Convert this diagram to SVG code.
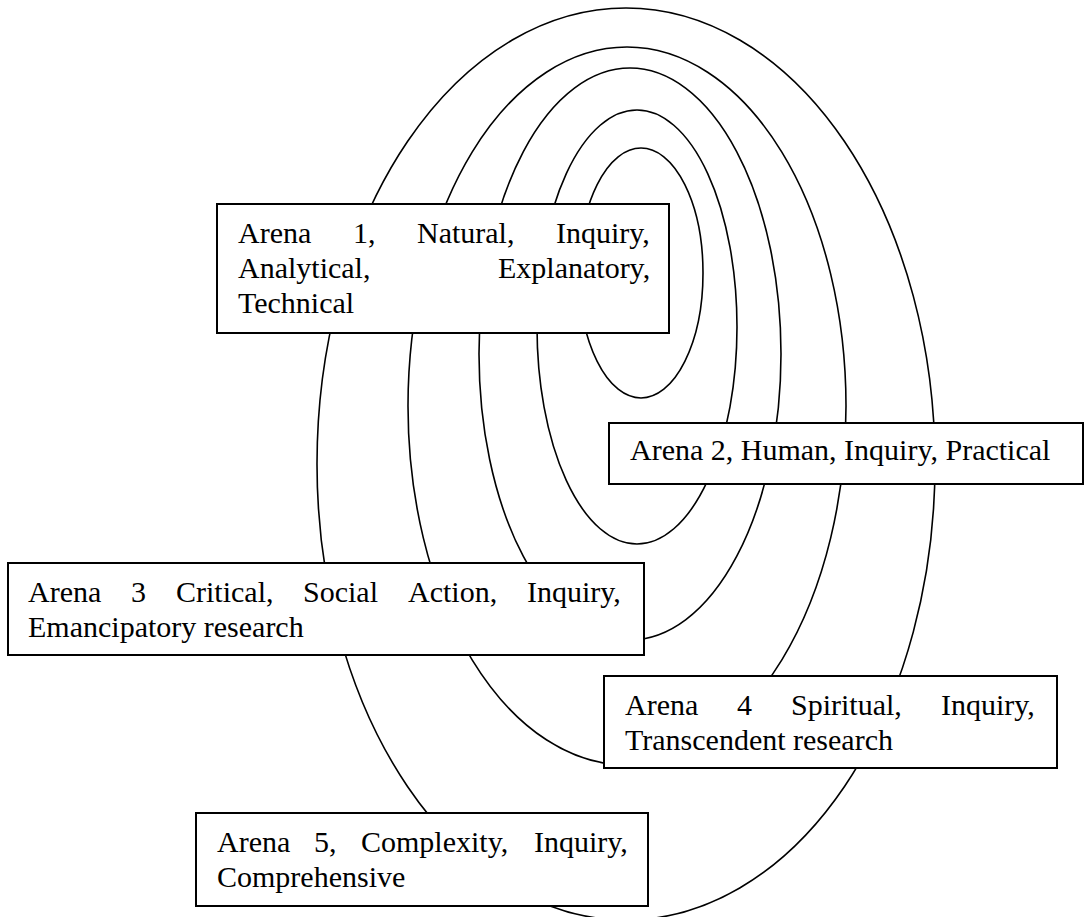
<svg xmlns="http://www.w3.org/2000/svg" width="1085" height="917" viewBox="0 0 1085 917">
  <style>
    .ring { fill: none; stroke: #000; stroke-width: 1.6; }
    .box { fill: #fff; stroke: #000; stroke-width: 2; }
    .lbl { font-family: "Liberation Serif", "Times New Roman", serif; font-size: 30px; fill: #000; }
  </style>
  <rect width="1085" height="917" fill="#fff"/>

  <!-- nested arenas, innermost first -->
  <g id="rings">
    <ellipse class="ring" cx="641" cy="273" rx="62" ry="125"/>
    <ellipse class="ring" cx="637" cy="327" rx="100" ry="217"/>
    <ellipse class="ring" cx="630" cy="354" rx="151" ry="286"/>
    <ellipse class="ring" cx="627" cy="406" rx="219" ry="359"/>
    <ellipse class="ring" cx="626" cy="464" rx="309" ry="456"/>
  </g>

  <g id="arena1">
    <rect class="box" x="217" y="204" width="452" height="129"/>
    <text class="lbl" y="243"><tspan x="238">Arena</tspan><tspan x="353">1,</tspan><tspan x="417">Natural,</tspan><tspan x="556">Inquiry,</tspan></text>
    <text class="lbl" y="278"><tspan x="238">Analytical,</tspan><tspan x="498">Explanatory,</tspan></text>
    <text class="lbl" x="238" y="313">Technical</text>
  </g>

  <g id="arena2">
    <rect class="box" x="609" y="423" width="474" height="61"/>
    <text class="lbl" x="630" y="460">Arena 2, Human, Inquiry, Practical</text>
  </g>

  <g id="arena3">
    <rect class="box" x="8" y="563" width="636" height="92"/>
    <text class="lbl" y="602"><tspan x="28">Arena</tspan><tspan x="131">3</tspan><tspan x="176">Critical,</tspan><tspan x="303">Social</tspan><tspan x="408">Action,</tspan><tspan x="527">Inquiry,</tspan></text>
    <text class="lbl" x="28" y="637">Emancipatory research</text>
  </g>

  <g id="arena4">
    <rect class="box" x="604" y="676" width="453" height="92"/>
    <text class="lbl" y="715"><tspan x="625">Arena</tspan><tspan x="737">4</tspan><tspan x="791">Spiritual,</tspan><tspan x="941">Inquiry,</tspan></text>
    <text class="lbl" x="625" y="750">Transcendent research</text>
  </g>

  <g id="arena5">
    <rect class="box" x="196" y="813" width="452" height="93"/>
    <text class="lbl" y="852"><tspan x="217">Arena</tspan><tspan x="314">5,</tspan><tspan x="361">Complexity,</tspan><tspan x="534">Inquiry,</tspan></text>
    <text class="lbl" x="217" y="887">Comprehensive</text>
  </g>
</svg>
